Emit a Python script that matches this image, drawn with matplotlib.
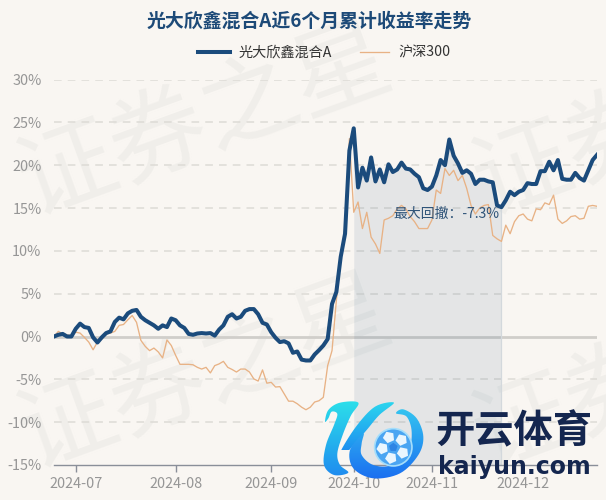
import numpy as np
import matplotlib
matplotlib.use("Agg")
import matplotlib.pyplot as plt
from matplotlib.patches import Circle, Polygon

plt.rcParams['font.family'] = ['Noto Sans CJK SC', 'DejaVu Sans']

title = "光大欣鑫混合A近6个月累计收益率走势"
fund_name = "光大欣鑫混合A"
index_name = "沪深300"
drawdown_label = "最大回撤：-7.3%"
y_ticks = [-15, -10, -5, 0, 5, 10, 15, 20, 25, 30]
month_labels = ["2024-07", "2024-08", "2024-09", "2024-10", "2024-11", "2024-12"]
month_positions = [5, 28, 50, 69, 87, 108]
drawdown_start = 69
drawdown_end = 103

fund = [0, 0.2, 0.3, 0, 0, 0.9, 1.5, 1.1, 1.0, -0.1, -0.7, -0.1, 0.4, 0.6, 1.7, 2.2, 2.0, 2.7, 3.0, 3.1,
        2.3, 1.9, 1.6, 1.3, 0.9, 1.3, 1.1, 2.1, 1.9, 1.3, 1.0, 0.3, 0.2, 0.35, 0.4, 0.35, 0.4, 0.1, 0.8, 1.3,
        2.3, 2.6, 2.1, 2.3, 3.0, 3.2, 3.2, 2.6, 1.6, 1.4, 0.5, -0.15, -0.65, -0.55, -0.8, -1.9, -1.75, -2.7, -2.8, -2.8,
        -2.1, -1.6, -1.05, -0.3, 3.8, 5.2, 9.3, 12.0, 21.7, 24.3, 17.4, 19.7, 18.2, 20.9, 18.1, 19.5, 18.0, 20.1, 19.2, 19.5,
        20.3, 19.6, 19.5, 19.0, 18.6, 17.3, 17.1, 17.5, 18.8, 20.6, 20.0, 23.0, 21.1, 20.2, 19.1, 19.4, 19.0, 17.8, 18.3, 18.3,
        18.1, 18.0, 15.3, 15.1, 15.9, 16.9, 16.5, 16.9, 17.1, 17.9, 17.8, 17.8, 19.3, 19.3, 20.4, 19.4, 20.6, 18.4, 18.3, 18.3,
        19.1, 18.5, 18.2, 19.4, 20.6, 21.2]

hs300 = [0, 0.6, 0.3, 0.2, 0.1, 0.5, 0.4, -0.1, -0.65, -1.55, -0.65, -0.3, 0.3, 0.4, 0.6, 1.3, 1.4, 1.95, 2.45, 1.65,
         -0.45, -1.15, -1.65, -1.35, -1.8, -2.5, -0.4, -1.05, -2.2, -3.25, -3.25, -3.25, -3.3, -3.6, -3.8, -3.6, -4.25, -3.4, -3.2, -2.9,
         -3.6, -3.85, -4.15, -3.8, -3.8, -4.15, -4.95, -5.2, -3.9, -5.45, -5.35, -5.9, -5.85, -6.7, -7.55, -7.55, -7.85, -8.25, -8.55, -8.25,
         -7.65, -7.5, -7.1, -3.4, -1.65, 4.2, 9.0, 13.0, 23.1, 14.5, 15.7, 12.6, 14.5, 11.6, 10.8, 9.7, 13.6, 13.8, 14.1, 14.9,
         15.3, 14.9, 14.0, 13.4, 12.6, 12.6, 12.6, 13.6, 17.1, 16.7, 19.6, 18.8, 19.4, 18.2, 18.8, 17.3, 15.3, 14.3, 15.0, 15.3,
         15.4, 11.8, 11.4, 11.1, 13.0, 12.0, 13.4, 14.1, 14.3, 13.7, 13.5, 14.9, 14.8, 15.6, 15.4, 16.5, 13.7, 13.2, 13.5, 14.0,
         14.1, 13.7, 13.8, 15.2, 15.3, 15.2]

BG = "#F9F6F2"
W, H = 606, 500
fig = plt.figure(figsize=(W / 100, H / 100), dpi=100, facecolor=BG)

# watermark layer, in pixel coordinates
wm = fig.add_axes([0, 0, 1, 1], zorder=0)
wm.set_xlim(0, W); wm.set_ylim(H, 0); wm.axis("off")
for cx, cy in [(205, 122), (205, 375), (660, 122), (660, 375)]:
    wm.text(cx, cy, "证券之星", fontsize=70, rotation=20, color="#F0EEEA",
            ha="center", va="center", rotation_mode="anchor", clip_on=True)

ax = fig.add_axes([54 / W, 1 - 465 / H, (597 - 54) / W, (465 - 79.5) / H], zorder=1)
ax.patch.set_alpha(0)
x = np.arange(len(fund))
ax.set_xlim(0, len(fund) - 1)
ax.set_ylim(-15, 30)
for t in y_ticks:
    if t == 0:
        ax.axhline(t, color="#D0CECA", lw=2.0, zorder=1.5)
    elif t != -15:
        ax.axhline(t, color="#DDDBD6", lw=1.1, ls=(0, (5, 4)), zorder=1)
ax.set_yticks(y_ticks, [f"{t}%" for t in y_ticks])
ax.set_xticks(month_positions, month_labels)
ax.tick_params(axis="y", length=0, pad=9, labelsize=10.4, labelcolor="#969696")
ax.tick_params(axis="x", length=5, width=1, color="#8A8F99", pad=3.5, labelsize=10.4, labelcolor="#969696")
for s in ["top", "left", "right"]:
    ax.spines[s].set_visible(False)
ax.spines["bottom"].set_color("#8A8F99")
ax.spines["bottom"].set_linewidth(1)

xs = x[drawdown_start:drawdown_end + 1]
ax.fill_between(xs, np.array(fund)[xs], -15, color="#1B4B7C", alpha=0.095, lw=0, zorder=2)
ax.plot([drawdown_end, drawdown_end], [fund[drawdown_end], -15], color="#D3D8DC", lw=0.9, zorder=2.1)
ax.plot(x, hs300, color="#E8B285", lw=0.95, zorder=3, label=index_name)
ax.plot(x, fund, color="#1B4B7C", lw=2.9, zorder=4, label=fund_name, solid_joinstyle="round")
ax.text(0.625, 0.651, drawdown_label, transform=ax.transAxes, fontsize=10, color="#2F5479",
        ha="left", va="center", zorder=5)

# title and legend, in pixel coordinates
top = fig.add_axes([0, 0, 1, 1], zorder=2)
top.set_xlim(0, W); top.set_ylim(H, 0); top.axis("off")
top.text(309, 21, title, fontsize=13.6, fontweight="bold", color="#1D4A78", ha="center", va="center")
top.plot([198, 230], [52, 52], color="#1B4B7C", lw=2.9)
top.text(239, 52.5, fund_name, fontsize=10.2, color="#333333", ha="left", va="center")
top.plot([360, 389], [52, 52], color="#E8B285", lw=0.95)
top.text(398, 52.5, index_name, fontsize=10.2, color="#333333", ha="left", va="center")


# logo
def smooth(points, n=8):
    p = np.array([(320 + a / 3, 390 + b / 3) for a, b in points])
    m = len(p)
    out = []
    for i in range(m):
        p0, p1, p2, p3 = p[(i - 1) % m], p[i], p[(i + 1) % m], p[(i + 2) % m]
        for t in np.linspace(0, 1, n, endpoint=False):
            out.append(0.5 * (2 * p1 + (p2 - p0) * t + (2 * p0 - 5 * p1 + 4 * p2 - p3) * t * t
                              + (3 * p1 - p0 - 3 * p2 + p3) * t ** 3))
    return np.array(out)


def grad_patch(points, c1, c2, extent):
    poly = Polygon(smooth(points), closed=True, facecolor="none", edgecolor="none",
                   transform=top.transData)
    top.add_patch(poly)
    g = np.linspace(0, 1, 64)[:, None, None]
    rgb = np.array(matplotlib.colors.to_rgb(c1))[None, None, :] * (1 - g) + \
        np.array(matplotlib.colors.to_rgb(c2))[None, None, :] * g
    im = top.imshow(rgb, extent=extent, aspect="auto", zorder=6)
    im.set_clip_path(poly)


stem = [(15, 95), (25, 60), (60, 38), (115, 38), (92, 78), (68, 135), (52, 190), (60, 225), (85, 248),
        (42, 255), (12, 225), (18, 165), (42, 105), (52, 72), (35, 65), (25, 85)]
arm = [(60, 188), (108, 110), (165, 50), (222, 38), (178, 75), (140, 120), (98, 168), (75, 192)]
swoop = [(130, 130), (90, 180), (100, 235), (160, 265), (240, 250), (295, 195), (310, 140), (290, 85),
         (250, 58), (228, 70), (260, 80), (275, 125), (265, 180), (215, 225), (160, 225), (125, 195), (125, 160)]
grad_patch(stem, "#2CE0EA", "#1E88F0", (320, 400, 480, 400))
grad_patch(arm, "#2CD8EE", "#1E90F0", (340, 400, 450, 400))
grad_patch(swoop, "#35C8F0", "#1A6CF0", (345, 425, 482, 405))
top.set_xlim(0, W); top.set_ylim(H, 0)

bx, by = 393.3, 447.3
top.add_patch(Circle((bx, by), 19.5, fc="#A5DEFB", ec="none", zorder=7))
top.add_patch(Circle((bx, by), 17.8, fc="#4AA5F2", ec="none", zorder=7))
for ang in np.deg2rad([30, 102, 174, 246, 318]):
    cx, cy = bx + 11 * np.cos(ang), by + 11 * np.sin(ang)
    pts = [(cx + 6 * np.cos(ang + k * 2 * np.pi / 5), cy + 6 * np.sin(ang + k * 2 * np.pi / 5)) for k in range(5)]
    top.add_patch(Polygon(pts, closed=True, fc="#EAF6FE", ec="none", zorder=8))
pts = [(bx + 4.5 * np.cos(a), by + 4.5 * np.sin(a)) for a in np.deg2rad(np.arange(-90, 270, 72))]
top.add_patch(Polygon(pts, closed=True, fc="#2F85E4", ec="none", zorder=8))

top.text(513.5, 432, "开云体育", fontsize=28.3, fontweight="black", color="#14264F",
         ha="center", va="center", zorder=9)
top.text(514, 467, "kaiyun.com", fontsize=17, fontweight="bold", color="#14264F",
         family="DejaVu Sans", ha="center", va="center", zorder=9)

fig.savefig("out.png", dpi=100, facecolor=BG)
